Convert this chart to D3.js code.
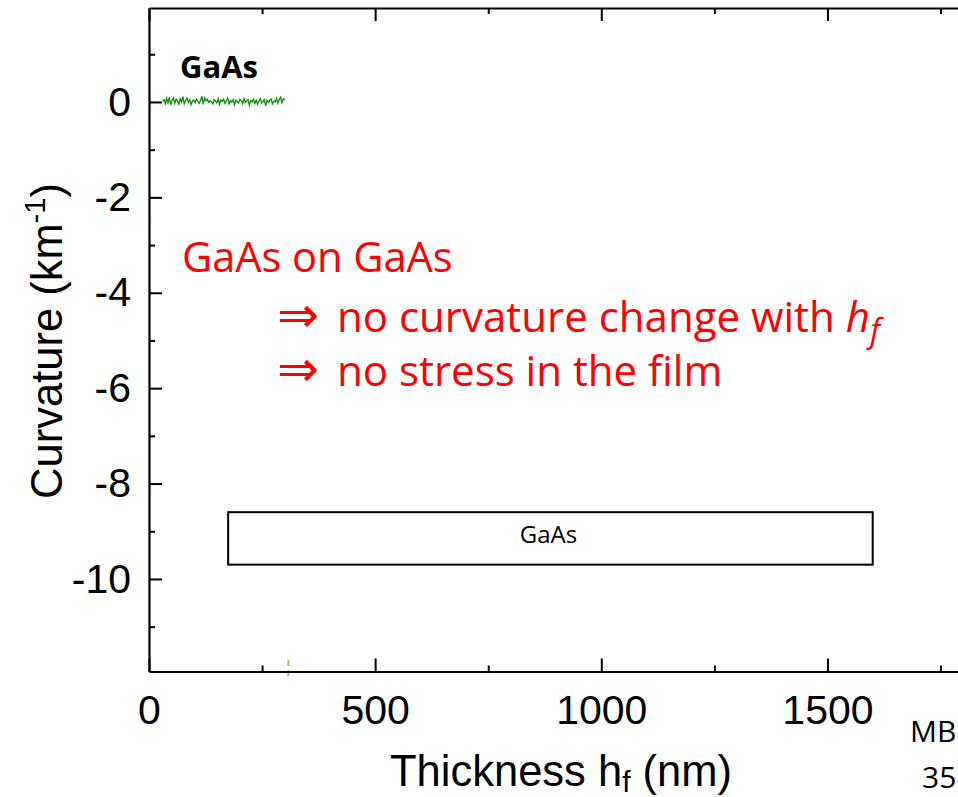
<!DOCTYPE html>
<html>
<head>
<meta charset="utf-8">
<script src="https://cdn.jsdelivr.net/npm/d3@7"></script>
<style>
  html, body { margin: 0; padding: 0; background: #fff; }
  svg { display: block; }
</style>
</head>
<body>
<svg id="chart" width="958" height="797"></svg>
<script>
// ---------- data ----------
const thickness = [30,33,36,39,42,45,48,51,54,57,60,63,66,69,72,75,78,81,84,87,90,93,96,99,102,105,108,111,114,117,
  120,123,126,129,132,135,138,141,144,147,150,153,156,159,162,165,168,171,174,177,180,183,186,189,192,195,198,201,204,207,
  210,213,216,219,222,225,228,231,234,237,240,243,246,249,252,255,258,261,264,267,270,273,276,279,282,285,288,291,294,297,300];
const curvature = [0.01,0.05,-0.04,0.08,-0.02,0.10,-0.06,0.04,0.09,-0.03,
  0.06,0.02,-0.05,0.07,0.00,0.11,-0.04,0.03,0.08,-0.01,
  0.05,-0.06,0.02,0.04,-0.02,0.06,0.01,-0.03,0.03,0.12,
  -0.05,0.09,0.02,0.06,-0.01,0.03,0.00,-0.04,0.05,0.02,
  -0.02,0.07,-0.05,0.04,0.01,0.06,-0.03,0.02,0.08,-0.04,
  0.03,0.00,0.05,-0.06,0.04,0.01,-0.02,0.06,0.03,-0.04,
  0.07,-0.01,0.02,0.05,-0.07,0.03,0.00,0.06,-0.03,0.04,
  -0.05,0.02,0.07,-0.02,0.01,0.05,-0.08,0.04,-0.01,0.03,
  0.06,-0.04,0.02,0.00,0.08,-0.03,0.05,0.10,-0.02,0.07,0.04];
const xMajorTicks = [0, 500, 1000, 1500];
const xMinorTicks = [250, 750, 1250, 1750];
const yMajorTicks = [0, -2, -4, -6, -8, -10];
const yMinorTicks = [1, -1, -3, -5, -7, -9, -11];
const markerThickness = [308];
const layerBox = {label: "GaAs", from: 175, to: 1600, top: -8.6, bottom: -9.7};

// ---------- scales ----------
const svg = d3.select("#chart");
const x = d3.scaleLinear().domain([0, 2000]).range([149, 1053.6]);
const y = d3.scaleLinear().domain([-11.94, 1.97]).range([671.5, 8]);
const X0 = x.range()[0], Y0 = y.range()[0], YT = y.range()[1];

const tickFont = "'Liberation Sans', Arial, sans-serif";

// ---------- green data ----------
const pts = thickness.map((t, i) => [t, curvature[i]]);
svg.append("path")
  .datum(pts)
  .attr("fill", "none")
  .attr("stroke", "#138a13")
  .attr("stroke-width", 1.3)
  .attr("d", d3.line().x(d => x(d[0])).y(d => y(d[1])));

// marker (dashed light green)
svg.selectAll(".marker").data(markerThickness).enter().append("line")
  .attr("x1", d => x(d)).attr("x2", d => x(d))
  .attr("y1", y(-11.7)).attr("y2", Y0 + 5)
  .attr("stroke", "#8fd14f").attr("stroke-width", 2)
  .attr("stroke-dasharray", "6,4");

// ---------- axes ----------
function styleAxis(g) {
  g.selectAll("path.domain").attr("stroke", "#000").attr("stroke-width", 2.2);
  g.selectAll(".tick line").attr("stroke", "#000").attr("stroke-width", 2);
}
// bottom
const gB = svg.append("g").attr("transform", `translate(0,${Y0})`)
  .call(d3.axisBottom(x).tickValues(xMajorTicks).tickSizeInner(-13).tickSizeOuter(0)
    .tickPadding(23).tickFormat(d3.format("d")));
styleAxis(gB);
gB.selectAll("text").attr("font-family", tickFont).attr("font-size", 41).attr("fill", "#000");
const gBm = svg.append("g").attr("transform", `translate(0,${Y0})`)
  .call(d3.axisBottom(x).tickValues(xMinorTicks).tickSizeInner(-6).tickSizeOuter(0).tickFormat(""));
styleAxis(gBm); gBm.select("path.domain").remove();
// top
const gT = svg.append("g").attr("transform", `translate(0,${YT})`)
  .call(d3.axisTop(x).tickValues(xMajorTicks).tickSizeInner(-13).tickSizeOuter(0).tickFormat(""));
styleAxis(gT);
const gTm = svg.append("g").attr("transform", `translate(0,${YT})`)
  .call(d3.axisTop(x).tickValues(xMinorTicks).tickSizeInner(-6).tickSizeOuter(0).tickFormat(""));
styleAxis(gTm); gTm.select("path.domain").remove();
// left
const gL = svg.append("g").attr("transform", `translate(${X0},0)`)
  .call(d3.axisLeft(y).tickValues(yMajorTicks).tickSizeInner(-13).tickSizeOuter(0)
    .tickPadding(18).tickFormat(d => String(d)));
styleAxis(gL);
gL.selectAll("text").attr("font-family", tickFont).attr("font-size", 41).attr("fill", "#000");
const gLm = svg.append("g").attr("transform", `translate(${X0},0)`)
  .call(d3.axisLeft(y).tickValues(yMinorTicks).tickSizeInner(-6).tickSizeOuter(0).tickFormat(""));
styleAxis(gLm); gLm.select("path.domain").remove();

// ---------- axis titles ----------
const xt = svg.append("text")
  .attr("x", 561).attr("y", 786)
  .attr("text-anchor", "middle")
  .attr("font-family", tickFont).attr("font-size", 43.5).attr("fill", "#000");
xt.append("tspan").text("Thickness h");
xt.append("tspan").attr("font-size", 30).attr("dy", 6).text("f");
xt.append("tspan").attr("dy", -6).text(" (nm)");

const yt = svg.append("text")
  .attr("transform", "translate(62,341) rotate(-90)")
  .attr("text-anchor", "middle")
  .attr("font-family", tickFont).attr("font-size", 43.5).attr("fill", "#000");
yt.append("tspan").text("Curvature (km");
yt.append("tspan").attr("font-size", 29).attr("dy", -17).text("-1");
yt.append("tspan").attr("dy", 17).text(")");

// ---------- annotations ----------
const annFont = "'Open Sans', 'Noto Sans', sans-serif";
svg.append("text").attr("x", 180).attr("y", 78)
  .attr("font-family", annFont).attr("font-weight", "bold").attr("font-size", 31)
  .attr("fill", "#000").text("GaAs");

const red = "#ff0000";
svg.append("text").attr("x", 182).attr("y", 272)
  .attr("font-family", annFont).attr("font-size", 41.5).attr("fill", red).text("GaAs on GaAs");

const l2 = svg.append("text").attr("x", 277).attr("y", 332)
  .attr("font-family", annFont).attr("font-size", 42).attr("fill", red);
l2.append("tspan").attr("font-family", "'DejaVu Sans', sans-serif").attr("font-size", 50).text("⇒");
l2.append("tspan").attr("x", 337).text("no curvature change with ");
l2.append("tspan").attr("font-style", "italic").text("h");
l2.append("tspan").attr("font-style", "italic").attr("font-size", 32).attr("dy", 10).text("f");

const l3 = svg.append("text").attr("x", 277).attr("y", 386)
  .attr("font-family", annFont).attr("font-size", 42).attr("fill", red);
l3.append("tspan").attr("font-family", "'DejaVu Sans', sans-serif").attr("font-size", 50).text("⇒");
l3.append("tspan").attr("x", 337).text("no stress in the film");

// layer box
svg.append("rect")
  .attr("x", x(layerBox.from)).attr("y", y(layerBox.top))
  .attr("width", x(layerBox.to) - x(layerBox.from))
  .attr("height", y(layerBox.bottom) - y(layerBox.top))
  .attr("fill", "none").attr("stroke", "#000").attr("stroke-width", 2);
svg.append("text")
  .attr("x", (x(layerBox.from) + x(layerBox.to)) / 2 - 2).attr("y", 543)
  .attr("text-anchor", "middle")
  .attr("font-family", annFont).attr("font-size", 24).attr("fill", "#000")
  .text(layerBox.label);

// footer fragments
svg.append("text").attr("x", 910).attr("y", 742)
  .attr("font-family", annFont).attr("font-size", 30).attr("fill", "#000").text("MB");
svg.append("text").attr("x", 922).attr("y", 788)
  .attr("font-family", annFont).attr("font-size", 30).attr("fill", "#000").text("35");
</script>
</body>
</html>
